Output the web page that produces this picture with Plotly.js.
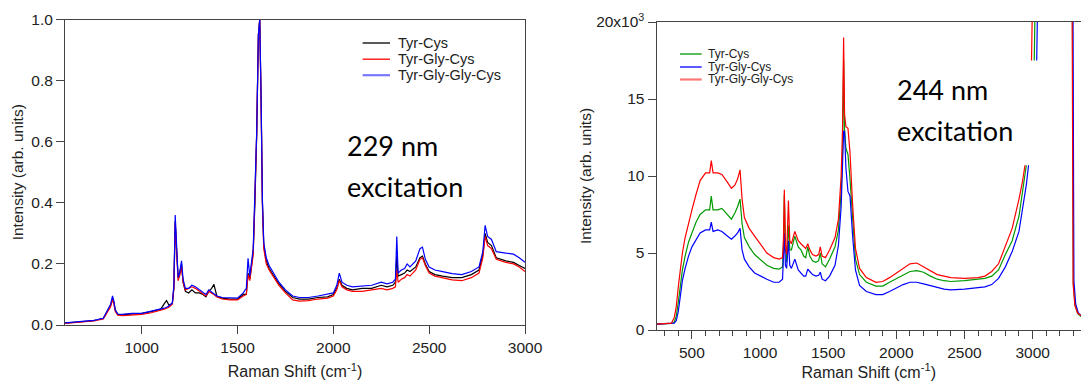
<!DOCTYPE html>
<html><head><meta charset="utf-8">
<script src="https://cdn.plot.ly/plotly-3.0.1.min.js"></script>
<style>html,body{margin:0;padding:0;background:#fff;} #chart{width:1081px;height:381px;}</style>
</head><body><div id="chart"></div>
<script>
// ---------- Left panel (229 nm excitation), normalised intensity ----------
const xLeft = [600,650,700,750,800,825,838,848,855,862,
  875,900,950,1000,1050,1100,1118,1130,1142,1160,
  1168,1175,1182,1190,1198,1208,1216,1228,1245,1262,
  1280,1300,1320,1335,1350,1365,1377,1392,1420,1460,
  1500,1530,1546,1555,1564,1582,1591,1600,1609,1616,
  1623,1630,1637,1650,1665,1681,1700,1716,1750,1788,
  1824,1870,1920,1970,2000,2018,2031,2045,2070,2100,
  2150,2200,2250,2280,2310,2324,2331,2338,2355,2372,
  2385,2400,2430,2452,2465,2480,2500,2530,2570,2620,
  2670,2720,2760,2780,2792,2805,2825,2850,2900,2940,
  2970,3000];
const left_TyrCys = [0.006,0.008,0.011,0.014,0.022,0.05,0.065,0.088,0.075,0.05,
  0.035,0.034,0.036,0.038,0.044,0.052,0.07,0.08,0.065,0.07,
  0.12,0.34,0.25,0.16,0.17,0.20,0.14,0.11,0.105,0.115,
  0.105,0.105,0.10,0.092,0.11,0.12,0.133,0.095,0.088,0.085,
  0.085,0.10,0.10,0.17,0.15,0.24,0.40,0.62,0.95,1.0,
  0.74,0.40,0.26,0.21,0.185,0.17,0.15,0.135,0.11,0.09,
  0.085,0.085,0.09,0.092,0.10,0.12,0.15,0.13,0.12,0.115,
  0.12,0.12,0.13,0.125,0.13,0.14,0.225,0.16,0.165,0.17,
  0.18,0.175,0.19,0.22,0.225,0.2,0.175,0.165,0.16,0.155,
  0.155,0.165,0.18,0.23,0.30,0.27,0.26,0.22,0.21,0.205,
  0.195,0.185];
const left_TyrGlyCys = [0.005,0.007,0.01,0.013,0.02,0.048,0.06,0.082,0.07,0.045,
  0.032,0.031,0.033,0.035,0.04,0.047,0.052,0.055,0.058,0.068,
  0.12,0.335,0.24,0.145,0.16,0.19,0.14,0.115,0.12,0.125,
  0.12,0.11,0.10,0.095,0.11,0.105,0.10,0.092,0.085,0.082,
  0.082,0.095,0.10,0.165,0.145,0.23,0.40,0.62,0.95,1.0,
  0.73,0.39,0.25,0.20,0.18,0.165,0.145,0.13,0.105,0.082,
  0.078,0.08,0.085,0.088,0.095,0.115,0.145,0.125,0.115,0.11,
  0.11,0.115,0.12,0.115,0.12,0.125,0.18,0.14,0.15,0.155,
  0.165,0.16,0.18,0.215,0.22,0.195,0.17,0.16,0.155,0.148,
  0.145,0.155,0.17,0.22,0.29,0.26,0.25,0.215,0.205,0.2,
  0.19,0.175];
const left_TyrGlyGlyCys = [0.007,0.009,0.012,0.015,0.022,0.055,0.068,0.095,0.078,0.05,
  0.036,0.035,0.038,0.038,0.045,0.05,0.055,0.058,0.062,0.072,
  0.13,0.36,0.26,0.155,0.17,0.21,0.15,0.12,0.12,0.13,
  0.125,0.115,0.105,0.10,0.115,0.108,0.105,0.095,0.09,0.088,
  0.088,0.105,0.12,0.218,0.16,0.25,0.41,0.63,0.95,1.0,
  0.75,0.41,0.27,0.22,0.195,0.178,0.16,0.14,0.115,0.095,
  0.09,0.09,0.095,0.1,0.105,0.13,0.17,0.14,0.13,0.125,
  0.128,0.13,0.14,0.135,0.14,0.15,0.29,0.17,0.18,0.185,
  0.2,0.19,0.21,0.25,0.255,0.215,0.19,0.18,0.175,0.168,
  0.165,0.175,0.19,0.24,0.326,0.29,0.28,0.24,0.235,0.232,
  0.22,0.205];

// ---------- Right panel (244 nm excitation), intensity in units of 10^3 ----------
const xRight = [240,300,350,370,385,400,415,430,450,475,
  500,530,560,600,630,642,655,690,720,760,
  790,815,835,853,868,885,920,960,1000,1050,
  1100,1140,1165,1172,1178,1186,1195,1208,1218,1230,
  1255,1280,1300,1320,1335,1350,1365,1385,1410,1430,
  1442,1455,1480,1510,1550,1575,1595,1605,1613,1620,
  1630,1645,1660,1680,1700,1730,1780,1850,1900,1950,
  2000,2050,2100,2150,2200,2250,2300,2350,2400,2500,
  2600,2650,2700,2750,2800,2850,2900];
const right_TyrCys = [0.38,0.4,0.42,0.5,0.9,1.8,3.0,3.9,4.8,5.7,
  6.3,7.0,7.5,7.8,7.8,8.7,7.8,7.8,7.9,7.5,
  7.2,7.6,8.0,8.5,6.9,6.0,5.4,4.9,4.6,4.2,
  4.0,3.95,4.1,5.5,8.8,5.5,4.4,6.8,5.2,5.2,
  6.1,5.4,5.2,4.8,4.7,5.4,4.8,4.5,4.4,4.5,
  5.0,4.3,4.1,4.6,5.4,6.5,9,11.5,17.5,13,
  11.8,11.4,9.8,6.8,4.6,3.6,3.1,2.85,2.85,3.1,
  3.35,3.6,3.8,3.85,3.75,3.5,3.3,3.2,3.15,3.2,
  3.3,3.35,3.5,3.9,4.9,5.8,7.4];
const right_TyrGlyCys = [0.38,0.4,0.4,0.45,0.6,1.2,2.2,3.2,4.0,4.8,
  5.4,5.9,6.3,6.5,6.5,7.0,6.4,6.5,6.4,6.1,
  5.9,6.1,6.3,6.6,5.2,4.6,4.1,3.7,3.5,3.3,
  3.1,3.1,3.3,4.5,6.3,4.2,4.0,5.8,4.2,4.0,
  4.6,3.9,3.7,3.5,3.5,3.95,3.8,3.6,3.5,3.55,
  3.75,3.3,3.2,3.5,4.2,5.5,8,10.5,12.9,12.9,
  10.5,9.0,8.7,6.0,3.9,2.9,2.5,2.3,2.3,2.5,
  2.75,2.95,3.1,3.1,3.0,2.9,2.75,2.65,2.6,2.65,
  2.75,2.8,2.95,3.35,4.1,5.1,6.4];
const right_TyrGlyGlyCys = [0.38,0.4,0.45,0.8,1.5,2.8,4.0,5.0,6.0,7.0,
  7.8,8.8,9.7,10.2,10.2,11.0,10.2,10.2,10.1,9.6,
  9.2,9.4,9.8,10.4,8.5,7.3,6.6,6.1,5.6,5.0,
  4.7,4.6,4.7,6.0,9.1,5.5,4.9,8.4,5.8,5.6,
  6.4,5.8,5.6,5.4,5.3,5.6,5.2,4.9,4.8,4.9,
  5.4,4.8,4.7,5.2,6.0,7.2,10,13,19.0,14,
  13.2,13.1,11.5,8.0,5.3,4.0,3.4,3.1,3.15,3.4,
  3.7,4.0,4.3,4.35,4.1,3.8,3.6,3.5,3.4,3.35,
  3.4,3.5,3.8,4.3,5.4,6.6,8.5];
// high-wavenumber ends (steep rise, off-scale band, steep fall); null = no visible trace
const xTail_TyrCys = [2930,2954,2983,3012,3018,3292,3299,3312,3332,3360];
const yTail_TyrCys = [9.4,10.7,null,17.5,21,21,3.0,1.6,1.05,0.85];
const xTail_TyrGlyCys = [2930,2955,2970,3000,3030,3036,3296,3303,3316,3336,3360];
const yTail_TyrGlyCys = [8.0,9.5,10.7,null,17.5,21,21,3.2,1.7,1.1,0.9];
const xTail_TyrGlyGlyCys = [2925,2944,2968,2992,2998,3290,3297,3310,3330,3360];
const yTail_TyrGlyGlyCys = [9.6,10.7,null,17.5,21,21,3.0,1.6,1.1,0.9];

const seriesNames = ['Tyr-Cys', 'Tyr-Gly-Cys', 'Tyr-Gly-Gly-Cys'];
const leftColors = ['#000000', '#ff0000', '#0000ff'];
const rightColors = ['#009a00', '#0000ff', '#ff0000'];
const leftTickVals = [0, 0.2, 0.4, 0.6, 0.8, 1.0];
const rightTickVals = [0, 5, 10, 15, 20];
const rightTickText = ['0', '5', '10', '15', '20x10<sup>3</sup>'];
const panelLabels = [['229 nm', 'excitation'], ['244 nm', 'excitation']];

// ---------- layout geometry (pixels) ----------
const W = 1081, H = 381;
const FONT = 'Liberation Sans, Arial, sans-serif';
const px = v => v / W, py = v => 1 - v / H;

const lw = 1.2;
const leftY = [left_TyrCys, left_TyrGlyCys, left_TyrGlyGlyCys];
const rightX = [xRight.concat(xTail_TyrCys), xRight.concat(xTail_TyrGlyCys), xRight.concat(xTail_TyrGlyGlyCys)];
const rightY = [right_TyrCys.concat(yTail_TyrCys), right_TyrGlyCys.concat(yTail_TyrGlyCys), right_TyrGlyGlyCys.concat(yTail_TyrGlyGlyCys)];

const traces = [];
seriesNames.forEach((n, i) => traces.push({
  x: xLeft, y: leftY[i], name: n, mode: 'lines', showlegend: false,
  line: {color: leftColors[i], width: lw}, xaxis: 'x', yaxis: 'y'
}));
seriesNames.forEach((n, i) => traces.push({
  x: rightX[i], y: rightY[i], name: n, mode: 'lines', showlegend: false, connectgaps: false,
  line: {color: rightColors[i], width: lw}, xaxis: 'x2', yaxis: 'y2'
}));

const axisCommon = {
  showgrid: false, zeroline: false, showline: true, linecolor: '#444', linewidth: 1,
  ticks: 'outside', ticklen: 8, tickcolor: '#444', tickwidth: 1,
  tickfont: {family: FONT, size: 15.5, color: '#222'}
};

// manual legends (line sample + label), matching the reference's compact spacing
const shapes = [], annotations = [];
const legendSpecs = [
  {colors: leftColors, lineX: [362.6, 390], textX: 395.7, rows: [43, 59.2, 75.2], size: 14.5, lastColor: '#7878ff'},
  {colors: rightColors, lineX: [680, 701.7], textX: 705.7, rows: [54, 67, 79.5], size: 12, lastColor: '#ff7878'}
];
legendSpecs.forEach(spec => {
  seriesNames.forEach((n, i) => {
    const last = i === seriesNames.length - 1;
    shapes.push({type: 'line', xref: 'paper', yref: 'paper',
      x0: px(spec.lineX[0]), x1: px(spec.lineX[1]), y0: py(spec.rows[i]), y1: py(spec.rows[i]),
      line: {color: last ? spec.lastColor : spec.colors[i], width: last ? 2.2 : 1.3}});
    annotations.push({text: n, xref: 'paper', yref: 'paper', x: px(spec.textX), y: py(spec.rows[i]),
      xanchor: 'left', yanchor: 'middle', showarrow: false,
      font: {family: FONT, size: spec.size, color: '#222'}});
  });
});
const labelSpecs = [{x: 345, rows: [145, 186]}, {x: 895, rows: [89.5, 130.5]}];
labelSpecs.forEach((s, k) => panelLabels[k].forEach((t, j) => annotations.push({
  text: t, xref: 'paper', yref: 'paper', x: px(s.x), y: py(s.rows[j]), xanchor: 'left', yanchor: 'middle',
  showarrow: false, font: {family: 'Lato, sans-serif', size: 27, color: '#000'}
})));

const layout = {
  width: W, height: H,
  margin: {l: 0, r: 0, t: 0, b: 0},
  paper_bgcolor: '#fff', plot_bgcolor: '#fff',
  font: {family: FONT, color: '#222'},
  showlegend: false,
  xaxis: Object.assign({}, axisCommon, {
    domain: [px(65), px(525)], anchor: 'y', range: [600, 3000],
    tick0: 0, dtick: 500, mirror: true,
    title: {text: 'Raman Shift (cm<sup>-1</sup>)', font: {family: FONT, size: 16, color: '#222'}, standoff: 11}
  }),
  yaxis: Object.assign({}, axisCommon, {
    domain: [1 - 325 / H, 1 - 19.5 / H], anchor: 'x', range: [0, 1.0],
    tickvals: leftTickVals, tickformat: '.1f', mirror: true,
    title: {text: 'Intensity (arb. units)', font: {family: FONT, size: 15.5, color: '#222'}, standoff: 3}
  }),
  xaxis2: Object.assign({}, axisCommon, {
    domain: [px(656.5), 1], anchor: 'y2', range: [240, 3355],
    tick0: 0, dtick: 500, mirror: true,
    minor: {ticks: 'outside', ticklen: 5, dtick: 100, tick0: 0, tickcolor: '#444', showgrid: false},
    title: {text: 'Raman Shift (cm<sup>-1</sup>)', font: {family: FONT, size: 16, color: '#222'}, standoff: 7}
  }),
  yaxis2: Object.assign({}, axisCommon, {
    domain: [1 - 330 / H, 1 - 22 / H], anchor: 'x2', range: [0, 20],
    tickvals: rightTickVals, ticktext: rightTickText, mirror: false,
    title: {text: 'Intensity (arb. units)', font: {family: FONT, size: 15.5, color: '#222'}, standoff: 0}
  }),
  shapes: shapes,
  annotations: annotations
};

Plotly.newPlot('chart', traces, layout, {displayModeBar: false, staticPlot: true});
</script></body></html>
